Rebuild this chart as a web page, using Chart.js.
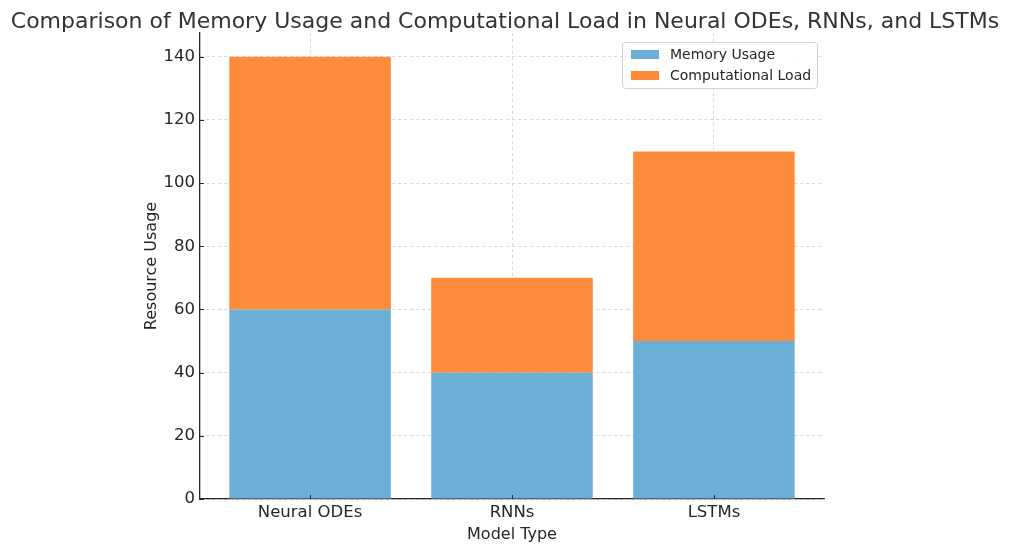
<!DOCTYPE html>
<html>
<head>
<meta charset="utf-8">
<script src="https://cdn.jsdelivr.net/npm/chart.js@4/dist/chart.umd.min.js"></script>
<style>
  html, body { margin: 0; padding: 0; background: #fff; }
  #wrap { width: 1024px; height: 553px; }
</style>
</head>
<body>
<div id="wrap"><canvas id="c" width="1024" height="553"></canvas></div>
<script>
const categories = ["Neural ODEs", "RNNs", "LSTMs"];
const memoryUsage = [60, 40, 50];
const computationalLoad = [80, 30, 60];
const yTicks = [0, 20, 40, 60, 80, 100, 120, 140];
const titleText = "Comparison of Memory Usage and Computational Load in Neural ODEs, RNNs, and LSTMs";

const FONT = "'DejaVu Sans', sans-serif";
const INK = "#262626";
const BLUE = "#6baed6";
const ORANGE = "#fd8d3c";

const pad = { left: 138, right: 200, top: 33, bottom: 5 };

// title + inward ticks + legend box inside plot
const extras = {
  id: "extras",
  afterDraw(chart) {
    const ctx = chart.ctx;
    const a = chart.chartArea;
    ctx.save();
    ctx.fillStyle = "#333";
    ctx.font = "22px " + FONT;
    ctx.textAlign = "center";
    ctx.textBaseline = "alphabetic";
    ctx.fillText(titleText, 505, 28);

    // inward tick marks
    ctx.strokeStyle = INK;
    ctx.lineWidth = 1;
    const xs = chart.scales.x, ys = chart.scales.y;
    categories.forEach((_, i) => {
      const px = Math.round(xs.getPixelForValue(i)) + 0.5;
      ctx.beginPath(); ctx.moveTo(px, a.bottom); ctx.lineTo(px, a.bottom - 4); ctx.stroke();
    });
    yTicks.forEach((v) => {
      const py = Math.round(ys.getPixelForValue(v)) + 0.5;
      ctx.beginPath(); ctx.moveTo(a.left, py); ctx.lineTo(a.left + 4, py); ctx.stroke();
    });

    // legend
    const bx = 622, by = 42, bw = 195, bh = 46;
    ctx.fillStyle = "rgba(255,255,255,0.85)";
    ctx.strokeStyle = "#d0d0d0";
    ctx.lineWidth = 1;
    ctx.beginPath();
    ctx.roundRect(bx + 0.5, by + 0.5, bw, bh, 3);
    ctx.fill(); ctx.stroke();
    ctx.font = "14px " + FONT;
    ctx.textAlign = "left";
    ctx.textBaseline = "middle";
    chart.data.datasets.forEach((ds, i) => {
      const yy = by + 12 + i * 21;
      ctx.fillStyle = ds.backgroundColor;
      ctx.fillRect(bx + 9, yy - 4, 28, 9);
      ctx.fillStyle = INK;
      ctx.fillText(ds.label, bx + 48, yy + 1);
    });
    ctx.restore();
  }
};

new Chart(document.getElementById("c"), {
  type: "bar",
  data: {
    datasets: [
      { label: "Memory Usage", data: memoryUsage.map((v, i) => ({ x: i, y: v })), backgroundColor: BLUE },
      { label: "Computational Load", data: computationalLoad.map((v, i) => ({ x: i, y: v })), backgroundColor: ORANGE }
    ]
  },
  options: {
    responsive: false,
    animation: false,
    layout: { padding: pad },
    barPercentage: 0.8,
    categoryPercentage: 1,
    plugins: { legend: { display: false }, tooltip: { enabled: false }, title: { display: false } },
    scales: {
      x: {
        type: "linear",
        stacked: true,
        offset: false,
        min: -0.545,
        max: 2.545,
        afterBuildTicks: (s) => { s.ticks = categories.map((_, i) => ({ value: i })); },
        afterFit: (s) => { s.height = 553 - 499 - pad.bottom; },
        ticks: {
          callback: (v) => categories[v] ?? "",
          color: INK, font: { family: FONT, size: 16.5 }, padding: 4, maxRotation: 0
        },
        grid: { color: "#cfcfcf", lineWidth: 0.8, offset: false, drawTicks: false },
        border: { color: INK, width: 1.3, dash: [3, 3] },
        title: { display: true, text: "Model Type", color: INK, font: { family: FONT, size: 16 }, padding: { top: 2 } }
      },
      y: {
        stacked: true,
        min: 0,
        max: 147.5,
        afterBuildTicks: (s) => { s.ticks = yTicks.map((v) => ({ value: v })); },
        afterFit: (s) => { s.width = 200 - pad.left; },
        ticks: { color: INK, font: { family: FONT, size: 16.5 }, padding: 5 },
        grid: { color: "#cfcfcf", lineWidth: 0.8, drawTicks: false },
        border: { color: INK, width: 1.3, dash: [3, 3] },
        title: { display: true, text: "Resource Usage", color: INK, font: { family: FONT, size: 16 }, padding: { bottom: 0 } }
      }
    }
  },
  plugins: [extras]
});
</script>
</body>
</html>
